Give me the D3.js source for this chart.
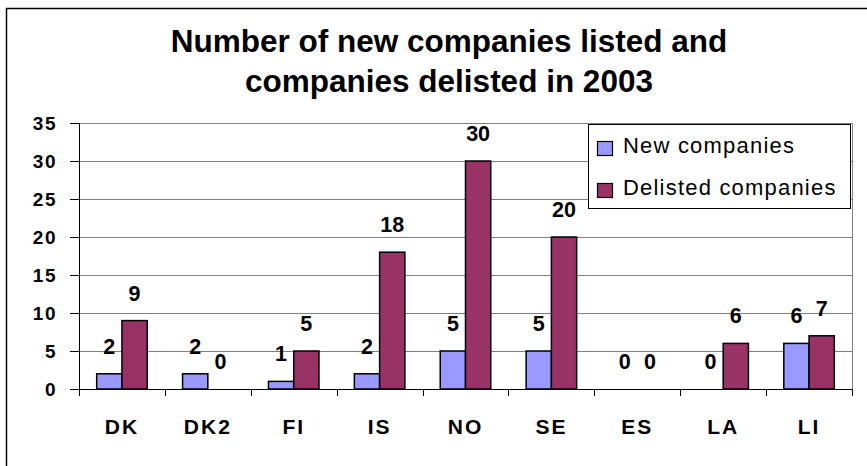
<!DOCTYPE html>
<html>
<head>
<meta charset="utf-8">
<script src="https://cdn.jsdelivr.net/npm/d3@7"></script>
<style>
  body { margin: 0; background: #fff; }
  svg { display: block; font-family: "Liberation Sans", Arial, sans-serif; }
</style>
</head>
<body>
<div id="chart"></div>
<script>
// chart values
var categories = ["DK", "DK2", "FI", "IS", "NO", "SE", "ES", "LA", "LI"];
var newCompanies = [2, 2, 1, 2, 5, 5, 0, 0, 6];
var delistedCompanies = [9, 0, 5, 18, 30, 20, 0, 6, 7];
var seriesNames = ["New companies", "Delisted companies"];
var yTicks = [0, 5, 10, 15, 20, 25, 30, 35];
var titleLines = ["Number of new companies listed and", "companies delisted in 2003"];

var colors = ["#9999ff", "#993366"];

var width = 867, height = 466;
var margin = {top: 123, right: 15, bottom: 77, left: 79};
var c_width = 852 - margin.left;
var c_height = 389 - margin.top;

var svg = d3.select("#chart").append("svg")
    .attr("width", width)
    .attr("height", height);

// outer chart border (runs off the right and bottom edge)
svg.append("rect")
    .attr("x", 6.5).attr("y", 8.5)
    .attr("width", 900).attr("height", 500)
    .attr("fill", "#fff")
    .attr("stroke", "#000")
    .attr("stroke-width", 1.5);

// title
svg.append("g").selectAll("text")
    .data(titleLines)
    .enter().append("text")
    .attr("x", 449)
    .attr("y", function (d, i) { return 52 + i * 40; })
    .attr("text-anchor", "middle")
    .attr("font-size", "31.5px")
    .attr("font-weight", "bold")
    .text(function (d) { return d; });

var g = svg.append("g").attr("transform", "translate(" + margin.left + "," + margin.top + ")");

var x0 = d3.scaleBand().domain(categories).range([0, c_width]).padding(0);
var bw = x0.bandwidth();
var gap = bw * 0.7 / 1.7;
var x1 = d3.scaleBand().domain(seriesNames).range([gap / 2, bw - gap / 2]).padding(0);
var y = d3.scaleLinear().domain([0, 35]).range([c_height, 0]);

// gridlines
g.selectAll(".grid")
    .data(yTicks.filter(function (d) { return d > 0; }))
    .enter().append("line")
    .attr("x1", 0).attr("x2", c_width)
    .attr("y1", function (d) { return Math.round(y(d)) + 0.5; })
    .attr("y2", function (d) { return Math.round(y(d)) + 0.5; })
    .attr("stroke", "#808080")
    .attr("stroke-width", 1);

// right edge of plot area
g.append("line")
    .attr("x1", c_width + 0.5).attr("x2", c_width + 0.5)
    .attr("y1", y(35)).attr("y2", c_height)
    .attr("stroke", "#808080");

// y axis
var yaxis = g.append("g")
    .call(d3.axisLeft(y).tickValues(yTicks).tickSize(9).tickPadding(13));
yaxis.select(".domain").remove();
yaxis.append("line")
    .attr("x1", 0.5).attr("x2", 0.5)
    .attr("y1", y(35)).attr("y2", c_height + 7)
    .attr("stroke", "#000");
yaxis.selectAll(".tick line").attr("stroke", "#000");
yaxis.selectAll("text")
    .attr("fill", "#000")
    .attr("font-size", "19px")
    .attr("font-weight", "bold")
    .attr("font-family", "Liberation Sans, Arial, sans-serif")
    .style("letter-spacing", "1.5px");

// x axis with ticks between categories
var xaxis = g.append("g")
    .attr("transform", "translate(0," + c_height + ")");
xaxis.append("line")
    .attr("x1", -9).attr("x2", c_width)
    .attr("y1", 0.5).attr("y2", 0.5)
    .attr("stroke", "#000");
xaxis.selectAll(".xtick")
    .data(categories)
    .enter().append("line")
    .attr("x1", function (d) { return Math.round(x0(d) + bw) + 0.5; })
    .attr("x2", function (d) { return Math.round(x0(d) + bw) + 0.5; })
    .attr("y1", 0).attr("y2", 7)
    .attr("stroke", "#000");
xaxis.selectAll(".xlabel")
    .data(categories)
    .enter().append("text")
    .attr("x", function (d) { return x0(d) + bw / 2; })
    .attr("y", 45)
    .attr("text-anchor", "middle")
    .attr("font-size", "21px")
    .attr("font-weight", "bold")
    .style("letter-spacing", "2px")
    .text(function (d) { return d; });

// bars
var rows = categories.map(function (c, i) {
    return {cat: c, values: [newCompanies[i], delistedCompanies[i]]};
});

var serie = g.selectAll(".serie")
    .data(rows)
    .enter().append("g")
    .attr("class", "serie")
    .attr("transform", function (d) { return "translate(" + x0(d.cat) + ",0)"; });

serie.selectAll("rect")
    .data(function (d) {
        return d.values.map(function (v, i) { return {s: i, v: v}; })
            .filter(function (e) { return e.v > 0; });
    })
    .enter().append("rect")
    .attr("x", function (d) { return x1(seriesNames[d.s]); })
    .attr("y", function (d) { return y(d.v); })
    .attr("width", x1.bandwidth())
    .attr("height", function (d) { return c_height - y(d.v); })
    .attr("fill", function (d) { return colors[d.s]; })
    .attr("stroke", "#000")
    .attr("stroke-width", 1.5);

serie.selectAll(".val")
    .data(function (d) { return d.values.map(function (v, i) { return {s: i, v: v}; }); })
    .enter().append("text")
    .attr("x", function (d) { return x1(seriesNames[d.s]) + x1.bandwidth() / 2; })
    .attr("y", function (d) { return y(d.v) - 20; })
    .attr("text-anchor", "middle")
    .attr("font-size", "21.5px")
    .attr("font-weight", "bold")
    .text(function (d) { return d.v; });

// legend
var legend = svg.append("g").attr("transform", "translate(588,124)");
legend.append("rect")
    .attr("x", 0.5).attr("y", 0.5)
    .attr("width", 262).attr("height", 84)
    .attr("fill", "#fff")
    .attr("stroke", "#000");
var items = legend.selectAll(".item")
    .data(seriesNames)
    .enter().append("g")
    .attr("transform", function (d, i) { return "translate(0," + (i * 42) + ")"; });
items.append("rect")
    .attr("x", 9.5).attr("y", 17.5)
    .attr("width", 15).attr("height", 14)
    .attr("fill", function (d, i) { return colors[i]; })
    .attr("stroke", "#000")
    .attr("stroke-width", 1.2);
items.append("text")
    .attr("x", 35)
    .attr("y", 29)
    .attr("font-size", "22px")
    .style("letter-spacing", "1.2px")
    .text(function (d) { return d; });
</script>
</body>
</html>
